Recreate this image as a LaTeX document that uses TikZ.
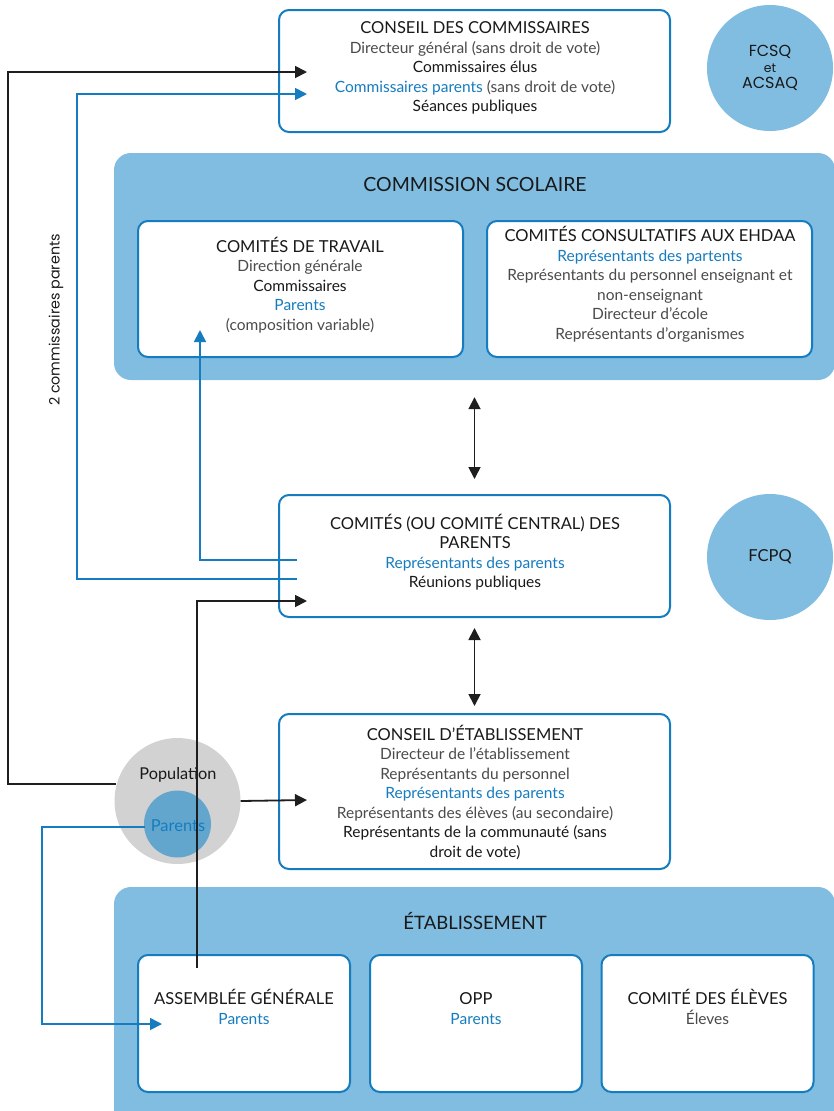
\documentclass[tikz,border=0pt]{standalone}
\usepackage{fontspec}
\setmainfont{Lato}
\newfontfamily\popfont{Poppins}
\usetikzlibrary{arrows.meta,calc}
\definecolor{bl}{RGB}{22,124,192}
\definecolor{lb}{RGB}{128,189,225}
\definecolor{popgray}{RGB}{210,210,210}
\definecolor{parblue}{RGB}{98,166,206}
\definecolor{gtxt}{RGB}{75,75,75}
\definecolor{ktxt}{RGB}{25,25,25}
\definecolor{kline}{RGB}{30,30,30}
\newcommand\mygray[1]{\textcolor{gtxt}{#1}}
\newcommand\myblue[1]{\textcolor{bl}{#1}}
\newcommand\bigcaps{\fontsize{16.5}{19.5}\selectfont}
\tikzset{
  wbox/.style={draw=bl, line width=2pt, fill=white, rounded corners=10pt, inner sep=0pt},
  bigbox/.style={fill=lb, rounded corners=17pt, inner sep=0pt},
  txt/.style={align=center, inner sep=0pt, text=ktxt, font=\fontsize{15.5}{19.5}\selectfont},
  circ/.style={circle, fill=lb, inner sep=0pt, minimum size=126pt},
  blkline/.style={draw=kline, line width=1.8pt},
  bluline/.style={draw=bl, line width=1.8pt},
  tip/.style={-{Triangle[length=12pt,width=12pt]}},
  dbl/.style={draw=kline, line width=1.8pt, {Triangle[length=12pt,width=12pt]}-{Triangle[length=12pt,width=12pt]}}
}
\begin{document}
\begin{tikzpicture}[x=1pt,y=-1pt]
\useasboundingbox (0,0) rectangle (834,1111);
\begin{scope}
\clip (0,0) rectangle (834,1111);

% Conseil des commissaires
\node[wbox, minimum width=391pt, minimum height=122pt] (cdc) at (474.5,71) {};
\node[txt] (cdc-t) at (475,68) {{\bigcaps CONSEIL DES COMMISSAIRES}\\
\mygray{Directeur général (sans droit de vote)}\\
Commissaires élus\\
\myblue{Commissaires parents} \mygray{(sans droit de vote)}\\
Séances publiques};

\node[circ] (fcsq) at (770,68) {};
\node[txt, font=\popfont\fontsize{16}{19}\selectfont] (fcsq-t) at (fcsq) {FCSQ\\[-3pt]{\fontsize{12.5}{13}\selectfont et}\\[-3pt]ACSAQ};

% Commission scolaire
\node[bigbox, minimum width=721pt, minimum height=227pt] (cs) at (474.5,266.5) {};
\node[txt, font=\fontsize{19.5}{22}\selectfont] (cs-t) at (475,185) {COMMISSION SCOLAIRE};
\node[wbox, minimum width=325pt, minimum height=136pt] (ct) at (300.5,289) {};
\node[txt] (ct-t) at (300,285) {{\bigcaps COMITÉS DE TRAVAIL}\\
\mygray{Direction générale}\\
Commissaires\\
\myblue{Parents}\\
\mygray{(composition variable)}};
\node[wbox, minimum width=325pt, minimum height=136pt] (cc) at (649.5,289) {};
\node[txt] (cc-t) at (650,284.5) {{\bigcaps COMITÉS CONSULTATIFS AUX EHDAA}\\
\myblue{Représentants des partents}\\
\mygray{Représentants du personnel enseignant et}\\
\mygray{non-enseignant}\\
\mygray{Directeur d’école}\\
\mygray{Représentants d’organismes}};

% Comités des parents
\node[wbox, minimum width=391pt, minimum height=122pt] (cp) at (474.5,556) {};
\node[txt] (cp-t) at (475,552) {{\bigcaps COMITÉS (OU COMITÉ CENTRAL) DES}\\
{\bigcaps PARENTS}\\
\myblue{Représentants des parents}\\
Réunions publiques};
\node[circ] (fcpq) at (770,557) {};
\node[txt, font=\fontsize{16.5}{19}\selectfont] (fcpq-t) at (fcpq) {FCPQ};

% Conseil d'etablissement
\node[wbox, minimum width=391pt, minimum height=155pt] (ce) at (474.5,791.5) {};
\node[txt] (ce-t) at (475,792) {{\bigcaps CONSEIL D’ÉTABLISSEMENT}\\
\mygray{Directeur de l’établissement}\\
\mygray{Représentants du personnel}\\
\myblue{Représentants des parents}\\
\mygray{Représentants des élèves (au secondaire)}\\
Représentants de la communauté (sans\\
droit de vote)};

% Population
\node[circle, fill=popgray, inner sep=0pt, minimum size=126pt] (pop) at (177.5,801) {};
\node[circle, fill=parblue, inner sep=0pt, minimum size=67pt] (par) at (177.5,824) {};
\node[txt, font=\fontsize{16.3}{19}\selectfont] (pop-t) at (178,775) {Population};
\node[txt, text=bl, font=\fontsize{16.5}{19}\selectfont] (par-t) at (178,826) {Parents};

% Etablissement
\node[bigbox, minimum width=721pt, minimum height=240pt] (et) at (474.5,1007) {};
\node[txt, font=\fontsize{18.5}{22}\selectfont] (et-t) at (475,921) {ÉTABLISSEMENT};
\node[wbox, minimum width=212pt, minimum height=137pt] (ag) at (244,1023.5) {};
\node[wbox, minimum width=212pt, minimum height=137pt] (opp) at (476,1023.5) {};
\node[wbox, minimum width=212pt, minimum height=137pt] (cel) at (707.5,1023.5) {};
\node[txt] (ag-t) at (244,1008) {{\bigcaps ASSEMBLÉE GÉNÉRALE}\\ \myblue{Parents}\vphantom{p}};
\node[txt] (opp-t) at (476,1008) {{\bigcaps OPP\vphantom{É}}\\ \myblue{Parents}\vphantom{p}};
\node[txt] (cel-t) at (707.5,1008) {{\bigcaps COMITÉ DES ÉLÈVES}\\ \mygray{Éleves}\vphantom{p}};

% label
\node[font=\popfont\fontsize{14.3}{16}\selectfont, text=ktxt, rotate=90, inner sep=0pt] (lab) at (56,320) {2 commissaires parents};

% coordinates
\coordinate (cdc-elus) at (307,72);
\coordinate (cdc-par) at (307,94);
\coordinate (k8) at (8,72);
\coordinate (b77) at (77,94);
\coordinate (cpA) at (297,579);
\coordinate (cpB) at (297,560);
\coordinate (ct-in) at (200,330);
\coordinate (ag-top) at (197,968);
\coordinate (cp-in) at (307,601);
\coordinate (b42) at (42,1024);
\coordinate (ag-in) at (162,1024);
\coordinate (ce-in) at (307,800);
\coordinate (popL) at (116,784);
\coordinate (parL) at (145,827);

% connectors
\draw[blkline, tip] (popL) -| (k8) -- (cdc-elus);
\draw[bluline, tip] (cpA) -| (b77) -- (cdc-par);
\draw[bluline, tip] (cpB) -| (ct-in);
\draw[blkline, tip] (ag-top) |- (cp-in);
\draw[bluline, tip] (parL) -| (b42) -- (ag-in);
\draw[blkline, tip] (pop.east) -- (ce-in);
\draw[dbl, shorten <=17pt, shorten >=15pt] (cs.south) -- (cp.north);
\draw[dbl, shorten <=10pt, shorten >=7pt] (cp.south) -- (ce.north);
\end{scope}
\end{tikzpicture}
\end{document}
